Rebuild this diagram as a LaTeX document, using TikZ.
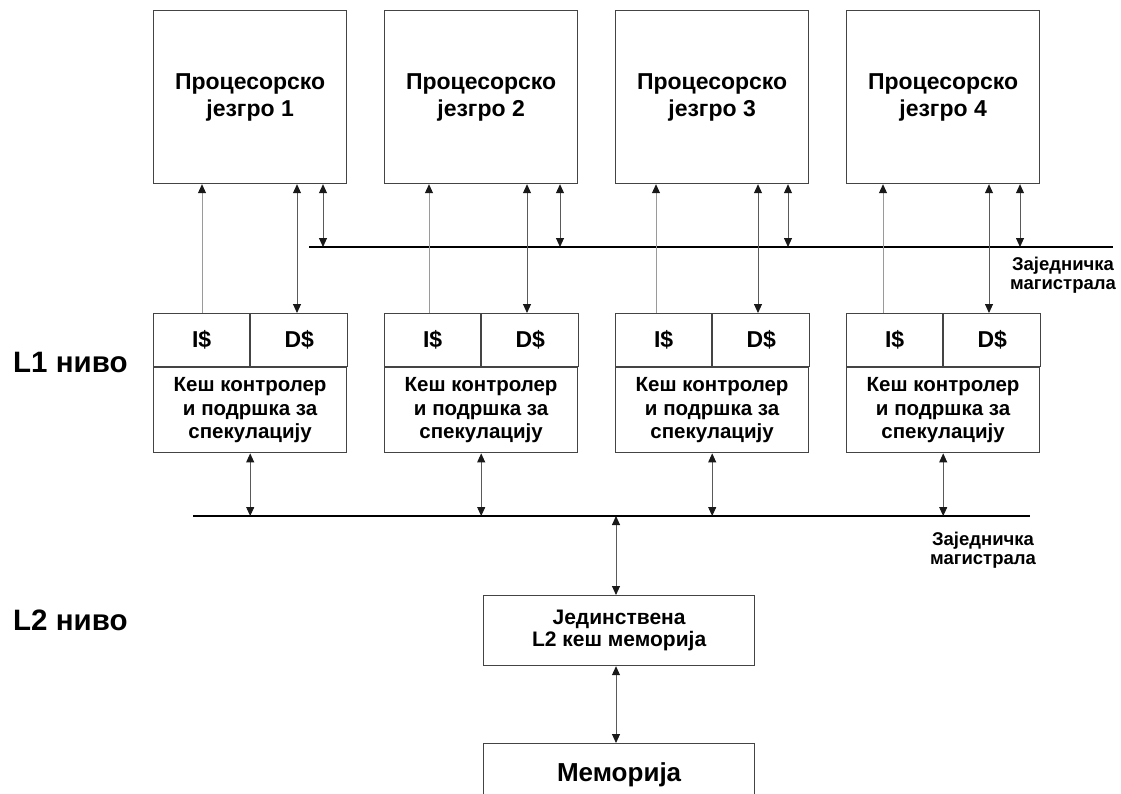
\documentclass[tikz,border=0pt]{standalone}
\usepackage{fontspec}
\setmainfont{Liberation Sans}
\usetikzlibrary{arrows.meta}
\definecolor{boxgray}{HTML}{444444}
\definecolor{linkgray}{HTML}{5A5A5A}
\definecolor{lightlink}{HTML}{9A9A9A}
\begin{document}
\begin{tikzpicture}[x=1pt,y=-1pt,
  >={Triangle[width=8pt,length=9pt,color=black!90]},
  box/.style={draw=boxgray,line width=1.2pt,inner sep=0pt,align=center,anchor=north west},
  corebox/.style={box,minimum width=193pt,minimum height=173pt,
    font=\fontsize{23}{27}\selectfont\bfseries},
  cellbox/.style={box,minimum height=53pt,font=\fontsize{23}{26}\selectfont\bfseries},
  ctrlbox/.style={box,minimum width=193pt,minimum height=85pt,
    font=\fontsize{20.5}{23.5}\selectfont\bfseries},
  l2box/.style={box,minimum width=271pt,minimum height=70pt,
    font=\fontsize{21}{22}\selectfont\bfseries},
  membox/.style={box,minimum width=271pt,minimum height=62pt,
    font=\fontsize{26}{29}\selectfont\bfseries},
  bus/.style={draw=black,line width=2pt},
  link/.style={draw=linkgray,line width=0.9pt,<->},
  uplink/.style={draw=lightlink,line width=0.9pt,->},
  buslabel/.style={align=center,font=\fontsize{18.5}{19.5}\selectfont\bfseries,inner sep=0pt},
  levellabel/.style={font=\fontsize{29.5}{32}\selectfont\bfseries,inner sep=0pt,anchor=west}]
\clip (0,0) rectangle (1121,793);
\fill[white] (0,0) rectangle (1121,793);

% shared buses
\coordinate (ubw) at (309,247);
\coordinate (ube) at (1113,247);
\coordinate (lbw) at (193,516);
\coordinate (lbe) at (1030,516);
\draw[bus] (ubw) -- (ube);
\draw[bus] (lbw) -- (lbe);
\node[buslabel] (ublabel) at (1063,275) {Заједничка\\магистрала};
\node[buslabel] (lblabel) at (983,550) {Заједничка\\магистрала};

% level labels
\node[levellabel] (lev1) at (13,362) {L1 ниво};
\node[levellabel] (lev2) at (13,620) {L2 ниво};

% cores with their L1 caches
\foreach \i/\xl/\ix/\dx/\bx in {1/153/202/297/323, 2/384/429/527/560, 3/615/656/758/788, 4/846/883/989/1020}{
  \node[corebox] (c\i) at (\xl,10) {Процесорско\\језгро \i};
  \node[cellbox,minimum width=96pt] (i\i) at (\xl,313) {I\$};
  \node[cellbox,minimum width=97pt] (d\i) at (i\i.north east) {D\$};
  \node[ctrlbox] (k\i) at (i\i.south west) {Кеш контролер\\и подршка за\\спекулацију};
  \coordinate (ix\i) at (\ix,0);
  \coordinate (dx\i) at (\dx,0);
  \coordinate (bx\i) at (\bx,0);
  \draw[uplink] (i\i.north -| ix\i) -- (c\i.south -| ix\i);
  \draw[link] (d\i.north -| dx\i) -- (c\i.south -| dx\i);
  \draw[link] (c\i.south -| bx\i) -- (bx\i |- ubw);
  \draw[link] (k\i.south -| d\i.south west) -- (d\i.south west |- lbw);
}

% unified L2 cache and main memory
\node[l2box] (l2) at (483,595) {Јединствена\\L2 кеш меморија};
\node[membox] (mem) at (483,743) {Меморија};
\coordinate (lx) at (616,0);
\draw[link] (lx |- lbw) -- (l2.north -| lx);
\draw[link] (l2.south -| lx) -- (mem.north -| lx);
\end{tikzpicture}
\end{document}
